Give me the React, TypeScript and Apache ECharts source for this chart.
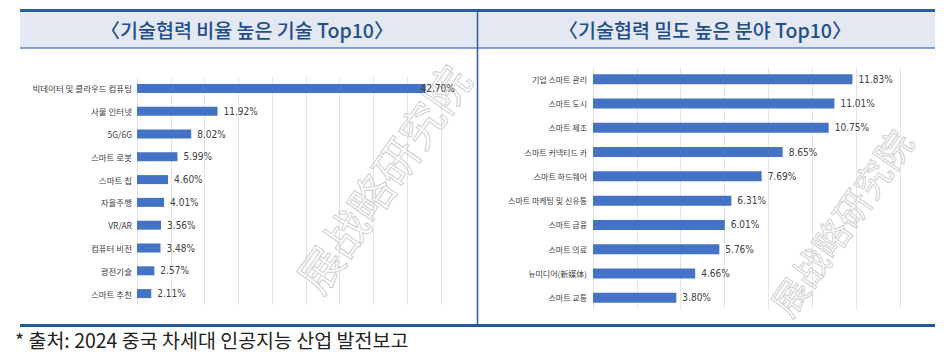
import React, { useEffect, useRef } from "react";
import * as echarts from "echarts";

const leftTitle = "〈기술협력 비율 높은 기술 Top10〉";
const rightTitle = "〈기술협력 밀도 높은 분야 Top10〉";
const footnote = "* 출처: 2024 중국 차세대 인공지능 산업 발전보고";
const watermark = "展战略研究院";

const leftCategories = [
  "빅데이터 및 클라우드 컴퓨팅",
  "사물 인터넷",
  "5G/6G",
  "스마트 로봇",
  "스마트 칩",
  "자율주행",
  "VR/AR",
  "컴퓨터 비전",
  "광전기술",
  "스마트 추천",
];
const leftValues = [42.7, 11.92, 8.02, 5.99, 4.6, 4.01, 3.56, 3.48, 2.57, 2.11];

const rightCategories = [
  "기업 스마트 관리",
  "스마트 도시",
  "스마트 제조",
  "스마트 커넥티드 카",
  "스마트 하드웨어",
  "스마트 마케팅 및 신유통",
  "스마트 금융",
  "스마트 의료",
  "뉴미디어(新媒体)",
  "스마트 교통",
];
const rightValues = [11.83, 11.01, 10.75, 8.65, 7.69, 6.31, 6.01, 5.76, 4.66, 3.8];

const BAR = "#4472C4";
const KR = '"Noto Sans CJK KR", "Noto Sans", sans-serif';
const NUM = '"Liberation Sans Narrow", "DejaVu Sans Condensed", "Liberation Sans", sans-serif';

export default function App() {
  const ref = useRef<HTMLDivElement>(null);
  useEffect(() => {
    if (!ref.current) return;
    const chart = echarts.init(ref.current, null, { renderer: "svg" });
    const valueLabel = {
      show: true,
      position: "right",
      distance: 6,
      color: "#404040",
      fontSize: 10,
      fontFamily: NUM,
      formatter: (p: any) => p.value.toFixed(2) + "%",
    };
    const leftData = leftValues.map((v, i) =>
      i === 0 ? { value: v, label: { offset: [-11, 0] } } : v
    );
    chart.setOption({
      animation: false,
      grid: [
        { left: 137, right: 951 - 441, top: 77, height: 228 },
        { left: 593, right: 951 - 900, top: 67, height: 243 },
      ],
      xAxis: [
        {
          gridIndex: 0,
          type: "value",
          min: 0,
          max: 45,
          interval: 5,
          axisLabel: { show: false },
          axisLine: { show: false },
          axisTick: { show: false },
          splitLine: { show: true, lineStyle: { color: "#e4e4e4", width: 1 } },
        },
        {
          gridIndex: 1,
          type: "value",
          min: 0,
          max: 14,
          interval: 2,
          axisLabel: { show: false },
          axisLine: { show: false },
          axisTick: { show: false },
          splitLine: { show: true, lineStyle: { color: "#e4e4e4", width: 1 } },
        },
      ],
      yAxis: [
        {
          gridIndex: 0,
          type: "category",
          inverse: true,
          data: leftCategories,
          axisLine: { show: false },
          axisTick: { show: false },
          axisLabel: { color: "#404040", fontSize: 8.5, fontFamily: KR, margin: 5 },
        },
        {
          gridIndex: 1,
          type: "category",
          inverse: true,
          data: rightCategories,
          axisLine: { show: false },
          axisTick: { show: false },
          axisLabel: { color: "#404040", fontSize: 8, fontFamily: KR, margin: 6 },
        },
      ],
      series: [
        {
          type: "bar",
          xAxisIndex: 0,
          yAxisIndex: 0,
          data: leftData,
          barWidth: 9,
          itemStyle: { color: BAR },
          label: valueLabel,
          z: 2,
        },
        {
          type: "bar",
          xAxisIndex: 1,
          yAxisIndex: 1,
          data: rightValues,
          barWidth: 10,
          itemStyle: { color: BAR },
          label: valueLabel,
          z: 2,
        },
      ],
      graphic: [
        { type: "rect", shape: { x: 20, y: 11, width: 458, height: 37 }, style: { fill: "#E3E8F2" }, z: 0 },
        { type: "rect", shape: { x: 478, y: 11, width: 457, height: 37 }, style: { fill: "#E3E8F2" }, z: 0 },
        { type: "line", shape: { x1: 20, y1: 10.5, x2: 935, y2: 10.5 }, style: { stroke: "#2B5E9C", lineWidth: 3 }, z: 5 },
        { type: "line", shape: { x1: 20, y1: 48, x2: 935, y2: 48 }, style: { stroke: "#5A8AC6", lineWidth: 1.5 }, z: 5 },
        { type: "line", shape: { x1: 477.5, y1: 10, x2: 477.5, y2: 324 }, style: { stroke: "#2B5E9C", lineWidth: 1.5 }, z: 5 },
        { type: "line", shape: { x1: 20, y1: 325.5, x2: 935, y2: 325.5 }, style: { stroke: "#225A96", lineWidth: 3 }, z: 5 },
        {
          type: "text",
          x: 247,
          y: 29,
          style: { text: leftTitle, fill: "#1F4E8C", font: `500 19.5px ${KR}`, align: "center", verticalAlign: "middle" },
          z: 6,
        },
        {
          type: "text",
          x: 705,
          y: 29,
          style: { text: rightTitle, fill: "#1F4E8C", font: `500 19.5px ${KR}`, align: "center", verticalAlign: "middle" },
          z: 6,
        },
        {
          type: "text",
          x: 382,
          y: 178,
          rotation: (55 * Math.PI) / 180,
          style: {
            text: watermark,
            fill: "rgba(0,0,0,0)",
            stroke: "#d0d0d0",
            lineWidth: 1,
            font: `44px "Noto Sans CJK SC", sans-serif`,
            align: "center",
            verticalAlign: "middle",
          },
          z: 1,
          silent: true,
        },
        {
          type: "text",
          x: 840,
          y: 222,
          rotation: (55 * Math.PI) / 180,
          style: {
            text: watermark,
            fill: "rgba(0,0,0,0)",
            stroke: "#d0d0d0",
            lineWidth: 1,
            font: `36px "Noto Sans CJK SC", sans-serif`,
            align: "center",
            verticalAlign: "middle",
          },
          z: 1,
          silent: true,
        },
        {
          type: "text",
          x: 15,
          y: 339,
          style: { text: footnote, fill: "#222222", font: `19.5px ${KR}`, align: "left", verticalAlign: "middle" },
          z: 6,
        },
      ],
    });
    return () => chart.dispose();
  }, []);
  return (
    <div
      ref={ref}
      style={{ position: "fixed", left: 0, top: 0, width: 951, height: 356, background: "#ffffff" }}
    />
  );
}
